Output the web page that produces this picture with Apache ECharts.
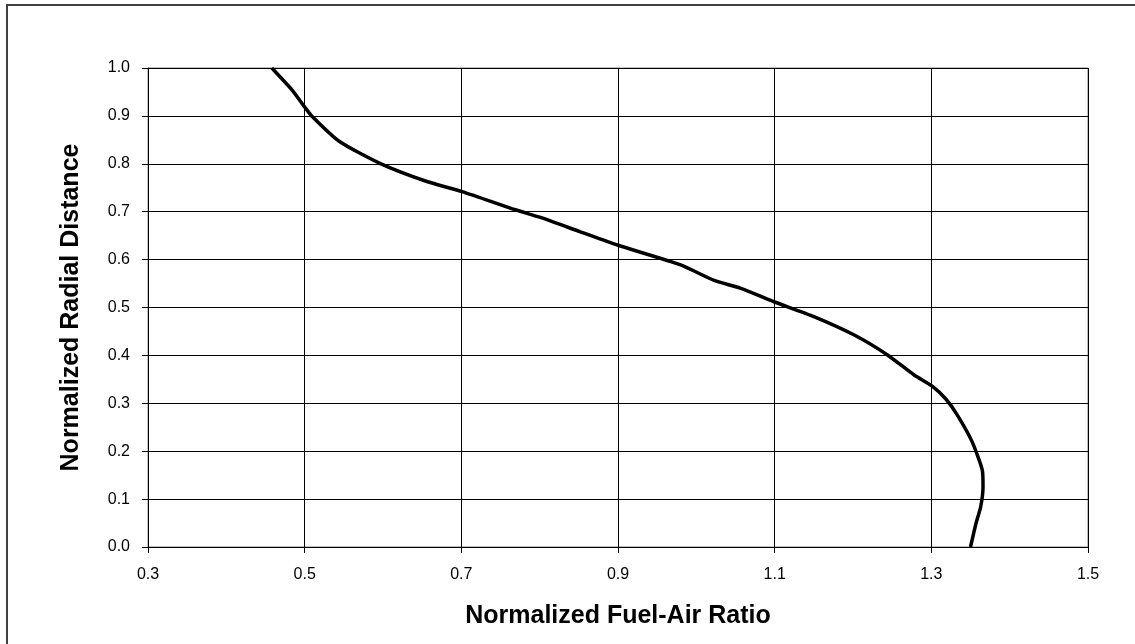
<!DOCTYPE html>
<html>
<head>
<meta charset="utf-8">
<script src="https://cdn.jsdelivr.net/npm/echarts@6/dist/echarts.min.js"></script>
<style>
  html, body { margin: 0; padding: 0; background: #fff; }
  #chart { width: 1135px; height: 644px; }
</style>
</head>
<body>
<div id="chart"></div>
<script>
// values
var fuelAir = [0.458, 0.484, 0.498, 0.509, 0.545, 0.596, 0.656, 0.701, 0.769, 0.801,
               0.852, 0.900, 0.980, 1.022, 1.057, 1.099, 1.150, 1.201, 1.244, 1.278,
               1.301, 1.318, 1.333, 1.352, 1.365, 1.366, 1.363, 1.357, 1.350];
var radial  = [1.000, 0.954, 0.923, 0.900, 0.846, 0.801, 0.763, 0.742, 0.704, 0.688,
               0.658, 0.630, 0.589, 0.557, 0.540, 0.512, 0.481, 0.443, 0.401, 0.359,
               0.336, 0.310, 0.276, 0.220, 0.161, 0.126, 0.084, 0.049, 0.000];
var xTicks = [0.3, 0.5, 0.7, 0.9, 1.1, 1.3, 1.5];
var yTicks = [0.0, 0.1, 0.2, 0.3, 0.4, 0.5, 0.6, 0.7, 0.8, 0.9, 1.0];

var points = [];
for (var i = 0; i < fuelAir.length; i++) {
  points.push([fuelAir[i], radial[i]]);
}

var chart = echarts.init(document.getElementById('chart'), null, { renderer: 'canvas' });

var font = '"Liberation Sans", Arial, sans-serif';

var option = {
  backgroundColor: '#fff',
  animation: false,
  // outer frame, right and bottom edges run off the picture
  graphic: [{
    type: 'rect',
    shape: { x: 7, y: 5, width: 1150, height: 660 },
    style: { fill: null, stroke: '#404040', lineWidth: 2 },
    silent: true,
    z: 0
  }],
  grid: {
    left: 148,
    top: 68,
    width: 940,
    height: 479,
    show: true,
    borderColor: '#808080',
    borderWidth: 1,
    backgroundColor: 'transparent'
  },
  xAxis: {
    type: 'value',
    min: xTicks[0],
    max: xTicks[xTicks.length - 1],
    interval: 0.2,
    name: 'Normalized Fuel-Air Ratio',
    nameLocation: 'middle',
    nameGap: 57,
    nameTextStyle: { fontFamily: font, fontSize: 25, fontWeight: 'bold', color: '#000' },
    axisLine: { show: true, onZero: false, lineStyle: { color: '#000', width: 1 } },
    axisTick: { show: true, inside: false, length: 6, lineStyle: { color: '#000' } },
    axisLabel: {
      fontFamily: font, fontSize: 16, color: '#000', margin: 20,
      formatter: function (v) { return v.toFixed(1); }
    },
    splitLine: { show: true, lineStyle: { color: '#000', width: 1 } }
  },
  yAxis: {
    type: 'value',
    min: yTicks[0],
    max: yTicks[yTicks.length - 1],
    interval: 0.1,
    name: 'Normalized Radial Distance',
    nameLocation: 'middle',
    nameGap: 64,
    nameRotate: 90,
    nameTextStyle: { fontFamily: font, fontSize: 25, fontWeight: 'bold', color: '#000' },
    axisLine: { show: true, onZero: false, lineStyle: { color: '#000', width: 1 } },
    axisTick: { show: true, inside: false, length: 6, lineStyle: { color: '#000' } },
    axisLabel: {
      fontFamily: font, fontSize: 16, color: '#000', margin: 18,
      formatter: function (v) { return v.toFixed(1); }
    },
    splitLine: { show: true, lineStyle: { color: '#000', width: 1 } }
  },
  series: [{
    type: 'line',
    data: points,
    showSymbol: false,
    symbol: 'none',
    smooth: 0.2,
    clip: true,
    lineStyle: { color: '#000', width: 3.5 }
  }]
};

chart.setOption(option);
</script>
</body>
</html>
